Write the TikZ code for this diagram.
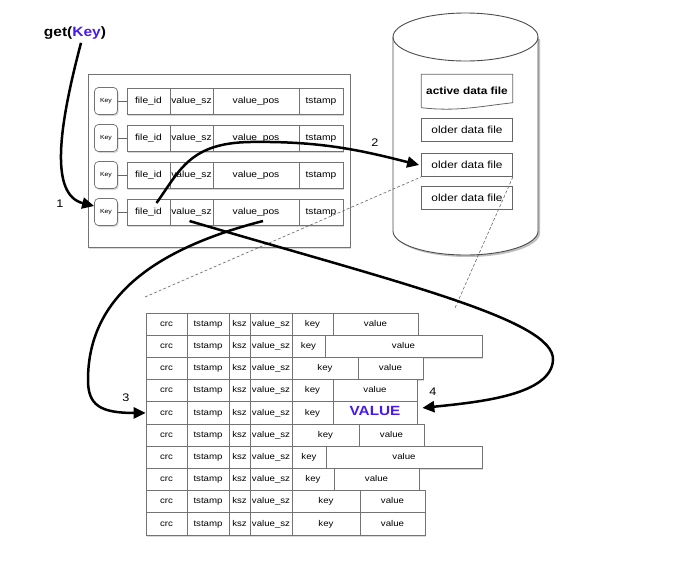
\documentclass[tikz,border=0pt]{standalone}
\usepackage{fontspec}
\setmainfont[FakeStretch=1.15]{Liberation Sans}
\usetikzlibrary{arrows.meta,shadows}
\definecolor{keyblue}{RGB}{70,25,240}
\newcommand\valhl{{\fontsize{13.3}{15}\selectfont\bfseries\color{keyblue}VALUE}}

\begin{document}
\begin{tikzpicture}[x=1pt, y=-1pt,
    shade/.style={drop shadow={shadow xshift=1.2pt, shadow yshift=-1.5pt, opacity=0.3}},
    frame/.style={draw=black!55, line width=0.7pt, fill=white, shade},
    keybox/.style={frame, rounded corners=4pt, minimum width=23pt, minimum height=27pt, inner sep=0pt, font=\fontsize{6}{7}\selectfont},
    icell/.style={frame, minimum height=26pt, inner sep=0pt, text height=6.6pt, text depth=1.9pt, font=\fontsize{8.9}{10}\selectfont},
    dcell/.style={frame, minimum height=22.2pt, inner sep=0pt, text height=6.3pt, text depth=1.8pt, font=\fontsize{8.4}{10}\selectfont},
    filebox/.style={draw=black!60, line width=0.8pt, fill=white, minimum width=91pt, minimum height=23pt, inner sep=0pt, font=\fontsize{10.3}{12}\selectfont},
    flow/.style={line width=2.5pt, -{Triangle[length=12pt,width=11pt]}},
    zoomline/.style={densely dashed, draw=black!60, line width=0.6pt},
    num/.style={font=\fontsize{11}{12}\selectfont}
]
\useasboundingbox (0,0) rectangle (695,574);

\node[font=\fontsize{13.5}{15}\selectfont\bfseries] (get) at (75,33) {get(\textcolor{keyblue}{Key})};

% keydir
\node[frame, minimum width=262pt, minimum height=173pt] (index) at (219,160.5) {};
\foreach \y [count=\i] in {101,138,175,212} {
    \node[keybox] (k\i) at (106,\y) {Key};
    \node[icell, minimum width=43pt] (f\i) at (148.5,\y) {file\_id};
    \node[icell, minimum width=43pt] (s\i) at (191.5,\y) {value\_sz};
    \node[icell, minimum width=86pt] (p\i) at (256,\y) {value\_pos};
    \node[icell, minimum width=44pt] (t\i) at (321,\y) {tstamp};
    \draw[black!60] (k\i) -- (f\i);
}

% disk
\fill[black, opacity=0.25] (395,39) -- (395,233) arc[start angle=180, end angle=360, x radius=72.5pt, y radius=24pt] -- (540,39) -- cycle;
\filldraw[draw=black!70, fill=white, line width=0.9pt] (393,37) -- (393,231) arc[start angle=180, end angle=360, x radius=72.5pt, y radius=24pt] -- (538,37);
\draw[black!70, line width=0.9pt] (465.5,37) ellipse[x radius=72.5pt, y radius=24pt];

\node[minimum width=91pt, minimum height=33pt, inner sep=0pt, font=\fontsize{10.3}{12}\selectfont\bfseries] (adf) at (467,91) {active data file};
\draw[black!60, line width=0.8pt] (adf.south west) -- (adf.north west) -- (adf.north east) -- ([yshift=5pt]adf.south east)
    .. controls ([xshift=-35pt,yshift=1pt]adf.south east) and ([xshift=35pt,yshift=-4pt]adf.south west) .. (adf.south west);
\node[filebox] (od1) at (467,130) {older data file};
\node[filebox] (od2) at (467,165) {older data file};
\node[filebox] (od3) at (467,198) {older data file};

% data file entries
\foreach \kx/\vx/\vtxt [count=\r] in {333/418/value, 325/482/value, 358/423/value, 333/417/value, 333/417/\valhl,
                                      359/424/value, 326/482/value, 334/419/value, 360/425/value, 360/425/value} {
    \pgfmathsetmacro\ry{313+22.2*(\r-0.5)}
    \pgfmathsetmacro\kc{(292+\kx)/2}
    \pgfmathsetmacro\kw{\kx-292}
    \pgfmathsetmacro\vc{(\kx+\vx)/2}
    \pgfmathsetmacro\vw{\vx-\kx}
    \node[dcell, minimum width=41pt] (c\r) at (166.5,\ry) {crc};
    \node[dcell, minimum width=42pt] (ts\r) at (208,\ry) {tstamp};
    \node[dcell, minimum width=21pt] (ks\r) at (239.5,\ry) {ksz};
    \node[dcell, minimum width=42pt] (vs\r) at (271,\ry) {value\_sz};
    \node[dcell, minimum width=\kw pt] (ky\r) at (\kc,\ry) {key};
    \node[dcell, minimum width=\vw pt] (vl\r) at (\vc,\ry) {\vtxt};
}

\coordinate (z1) at (145,297);
\coordinate (z2) at (455,308);
\draw[zoomline] (z1) -- (od2.south west);
\draw[zoomline] (od2.south east) -- (z2);

% lookup steps
\draw[flow] ([xshift=6pt]get.south) .. controls (58,130) and (50,195) .. ([yshift=6pt]k4.west);
\draw[flow] ([shift={(8pt,9pt)}]f4.center) .. controls (180,170) and (190,143) .. (250,142)
    .. controls (320,141) and (360,150) .. ([xshift=-2pt]od2.west);
\draw[flow] ([shift={(7pt,-9pt)}]p4.center) .. controls (150,250) and (88,300) .. (88,380)
    .. controls (88,405) and (100,413) .. (c5.west);
\draw[flow] ([shift={(-2pt,-9pt)}]s4.center) .. controls (400,283) and (555,320) .. (553,360)
    .. controls (551,395) and (480,402) .. ([shift={(5pt,5pt)}]vl5.east);

\node[num] (n1) at (60,204) {1};
\node[num] (n2) at (375,143) {2};
\node[num] (n3) at (126,398) {3};
\node[num] (n4) at (433,392) {4};
\end{tikzpicture}
\end{document}
